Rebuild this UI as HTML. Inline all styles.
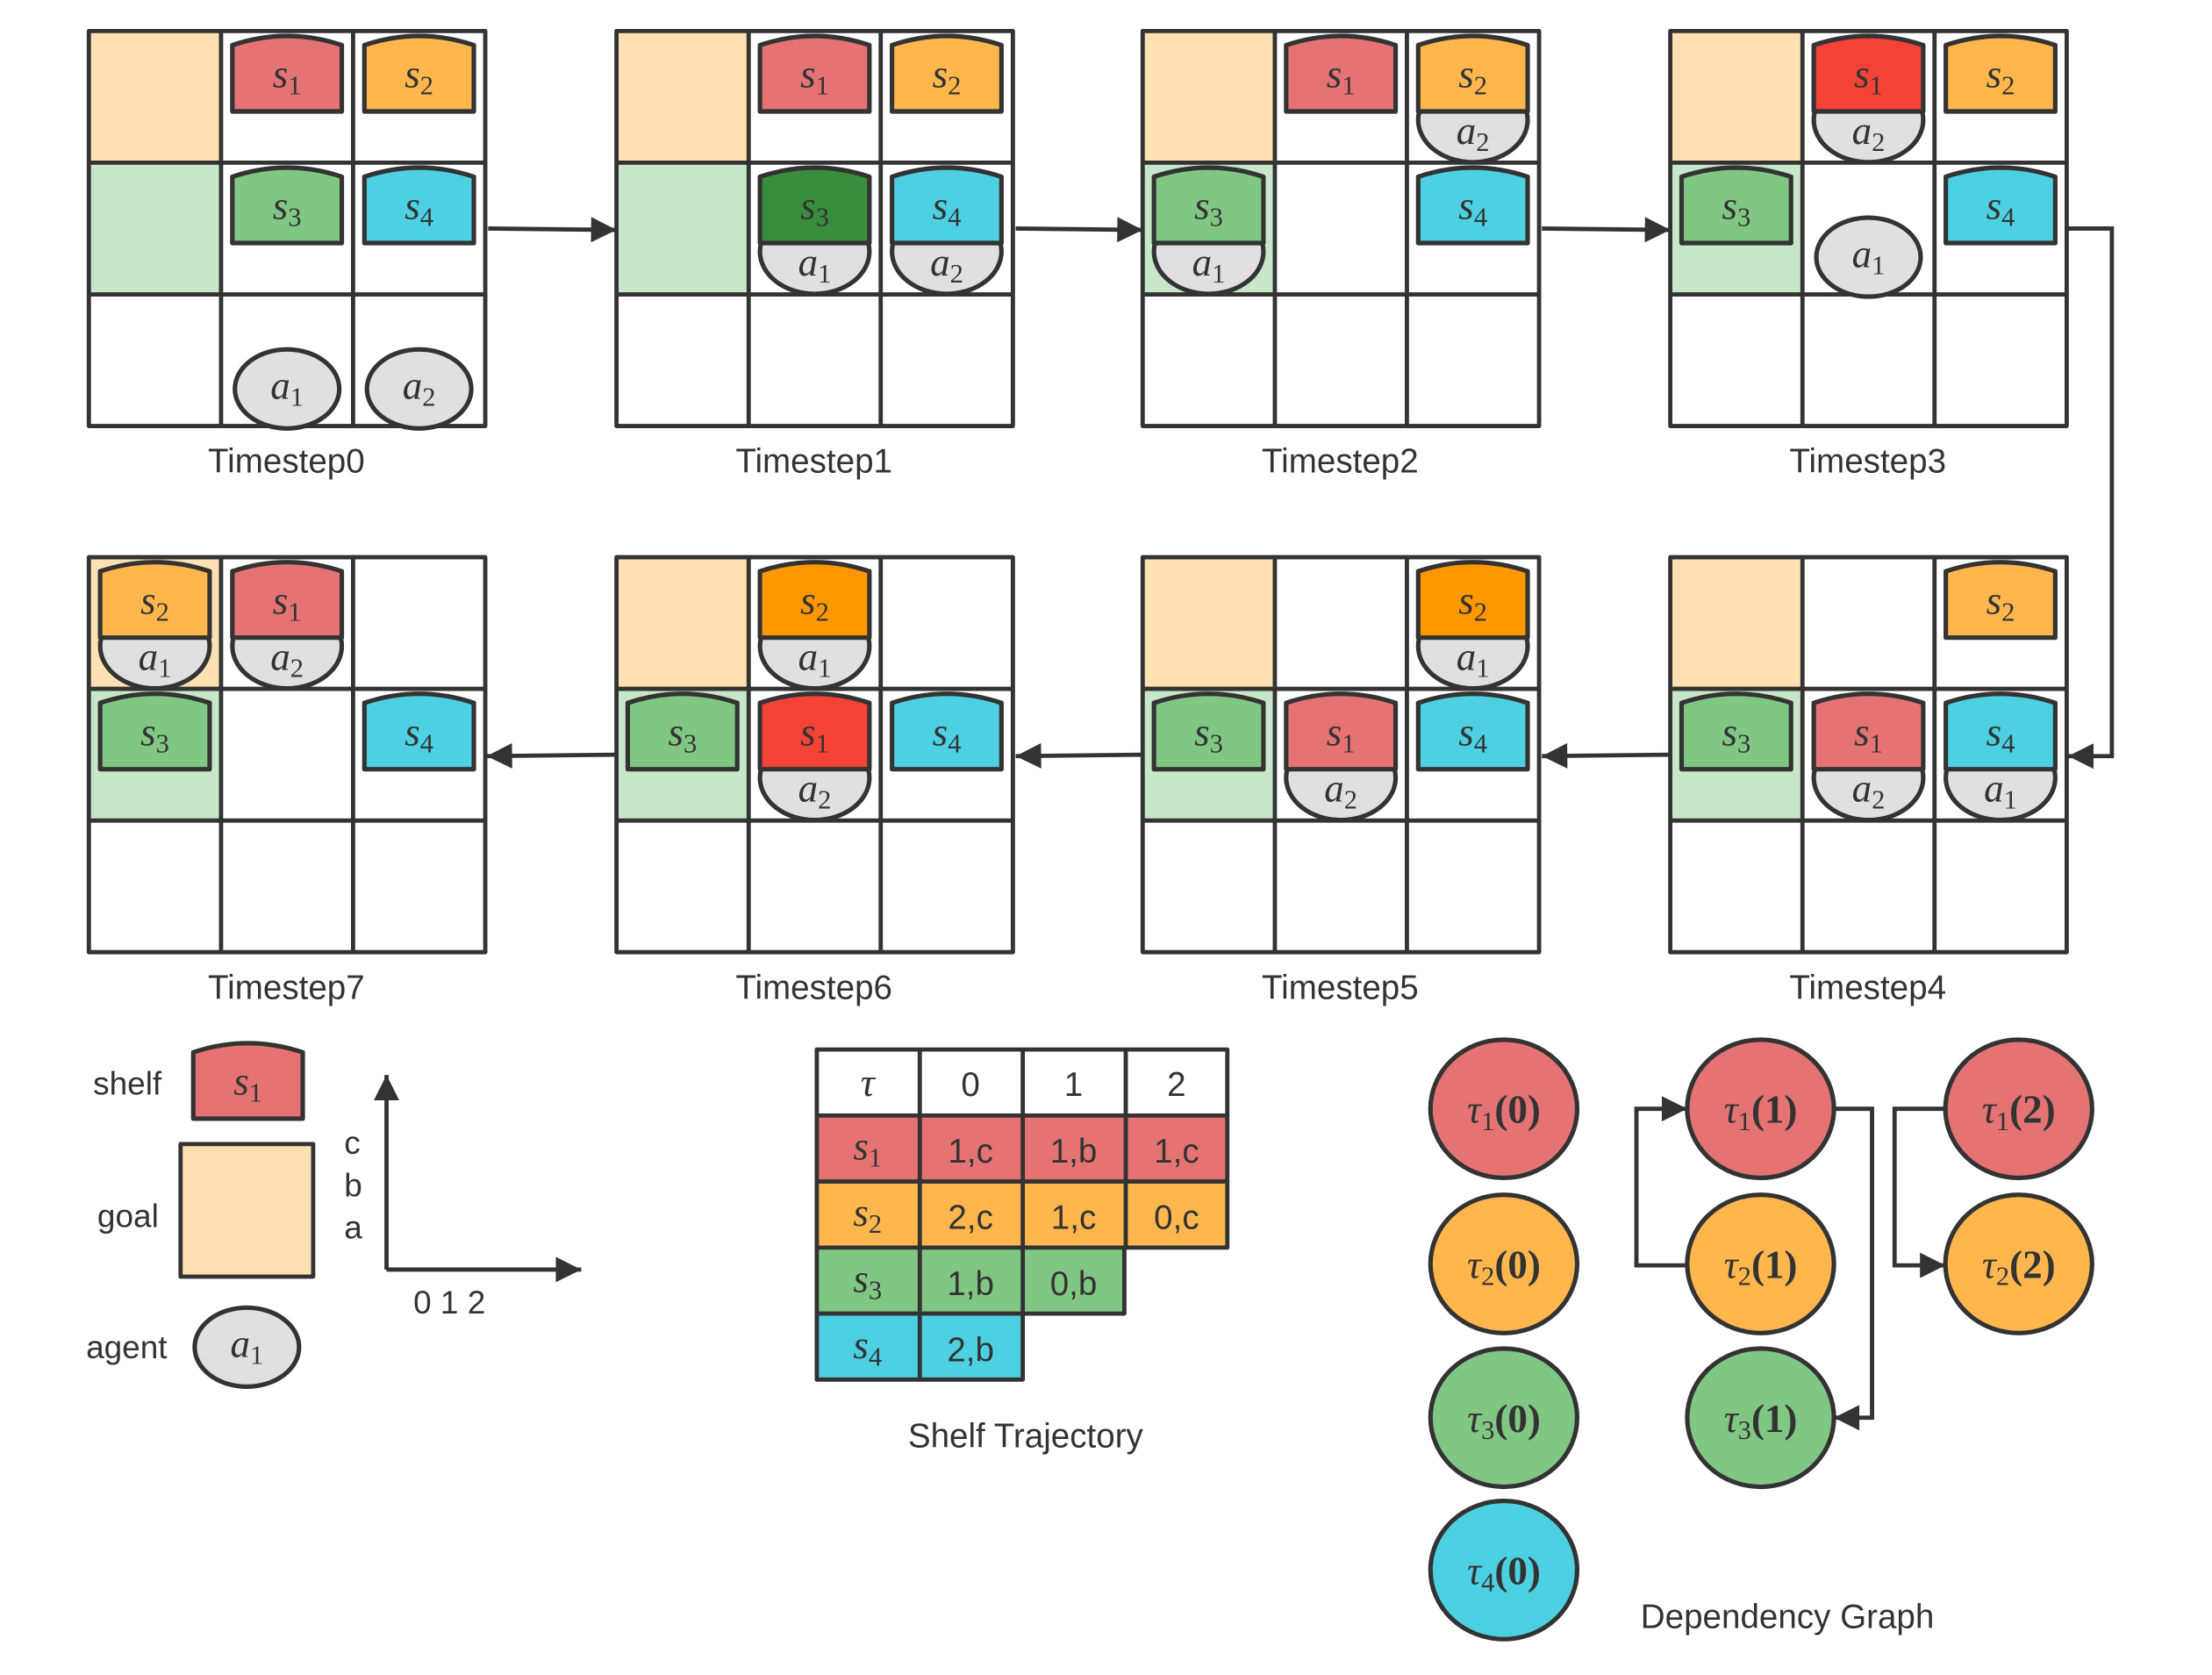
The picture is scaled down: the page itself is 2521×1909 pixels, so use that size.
<!DOCTYPE html>
<html><head><meta charset="utf-8">
<style>
html,body{margin:0;padding:0;background:#fff;}
svg{display:block;}
.lb{font-family:"Liberation Sans",sans-serif;font-size:23px;fill:#333;}
.m{font-family:"Liberation Serif",serif;font-style:italic;font-size:28px;fill:#333;text-anchor:middle;}
.sb{font-style:normal;font-size:19px;}
.tt{font-family:"Liberation Sans",sans-serif;font-size:24px;fill:#333;text-anchor:middle;}
</style></head><body>
<svg width="2521" height="1909" viewBox="0 0 1568 1187.4" preserveAspectRatio="none" xmlns="http://www.w3.org/2000/svg">
<defs>
<g id="bg">
<rect x="0" y="0" width="93.7" height="93.3" fill="#ffe0b2"/>
<rect x="0" y="93.3" width="93.7" height="93.3" fill="#c8e6c9"/>
<path d="M0,0H281V280H0Z M93.7,0V280 M187.3,0V280 M0,93.3H281 M0,186.7H281" fill="none" stroke="#333" stroke-width="3" stroke-linejoin="round"/>
</g>
<path id="sh" d="M8,57V10Q46.8,-3 85.6,10V57Z" stroke="#333" stroke-width="3.2" stroke-linejoin="round"/>
<ellipse id="ag" cx="46.8" cy="67" rx="37" ry="28" fill="#e0e0e0" stroke="#333" stroke-width="3.2"/>
<ellipse id="agc" cx="46.8" cy="63" rx="38.8" ry="30" fill="#e0e0e0" stroke="#333" stroke-width="3.2"/>
<marker id="ar" viewBox="0 0 10 10" refX="10" refY="5" markerWidth="9" markerHeight="6" markerUnits="strokeWidth" orient="auto"><path d="M0,0L10,5L0,10Z" fill="#333"/></marker>
</defs>

<!-- TS0 -->
<g transform="translate(63,22)"><use href="#bg"/>
<g transform="translate(93.7,0)"><use href="#sh" fill="#e57373"/><text class="m" x="46.8" y="40">s<tspan class="sb" dy="5">1</tspan></text></g>
<g transform="translate(187.3,0)"><use href="#sh" fill="#ffb74d"/><text class="m" x="46.8" y="40">s<tspan class="sb" dy="5">2</tspan></text></g>
<g transform="translate(93.7,93.3)"><use href="#sh" fill="#81c784"/><text class="m" x="46.8" y="40">s<tspan class="sb" dy="5">3</tspan></text></g>
<g transform="translate(187.3,93.3)"><use href="#sh" fill="#4dd0e1"/><text class="m" x="46.8" y="40">s<tspan class="sb" dy="5">4</tspan></text></g>
<g transform="translate(93.7,186.7)"><use href="#ag"/><text class="m" x="46.8" y="74">a<tspan class="sb" dy="5">1</tspan></text></g>
<g transform="translate(187.3,186.7)"><use href="#ag"/><text class="m" x="46.8" y="74">a<tspan class="sb" dy="5">2</tspan></text></g>
</g>
<text class="tt" x="203" y="335">Timestep0</text>

<!-- TS1 -->
<g transform="translate(437,22)"><use href="#bg"/>
<g transform="translate(93.7,0)"><use href="#sh" fill="#e57373"/><text class="m" x="46.8" y="40">s<tspan class="sb" dy="5">1</tspan></text></g>
<g transform="translate(187.3,0)"><use href="#sh" fill="#ffb74d"/><text class="m" x="46.8" y="40">s<tspan class="sb" dy="5">2</tspan></text></g>
<g transform="translate(93.7,93.3)"><use href="#agc"/><text class="m" x="46.8" y="80">a<tspan class="sb" dy="5">1</tspan></text><use href="#sh" fill="#388e3c"/><text class="m" x="46.8" y="40">s<tspan class="sb" dy="5">3</tspan></text></g>
<g transform="translate(187.3,93.3)"><use href="#agc"/><text class="m" x="46.8" y="80">a<tspan class="sb" dy="5">2</tspan></text><use href="#sh" fill="#4dd0e1"/><text class="m" x="46.8" y="40">s<tspan class="sb" dy="5">4</tspan></text></g>
</g>
<text class="tt" x="577" y="335">Timestep1</text>

<!-- TS2 -->
<g transform="translate(810,22)"><use href="#bg"/>
<g transform="translate(93.7,0)"><use href="#sh" fill="#e57373"/><text class="m" x="46.8" y="40">s<tspan class="sb" dy="5">1</tspan></text></g>
<g transform="translate(187.3,0)"><use href="#agc"/><text class="m" x="46.8" y="80">a<tspan class="sb" dy="5">2</tspan></text><use href="#sh" fill="#ffb74d"/><text class="m" x="46.8" y="40">s<tspan class="sb" dy="5">2</tspan></text></g>
<g transform="translate(0,93.3)"><use href="#agc"/><text class="m" x="46.8" y="80">a<tspan class="sb" dy="5">1</tspan></text><use href="#sh" fill="#81c784"/><text class="m" x="46.8" y="40">s<tspan class="sb" dy="5">3</tspan></text></g>
<g transform="translate(187.3,93.3)"><use href="#sh" fill="#4dd0e1"/><text class="m" x="46.8" y="40">s<tspan class="sb" dy="5">4</tspan></text></g>
</g>
<text class="tt" x="950" y="335">Timestep2</text>

<!-- TS3 -->
<g transform="translate(1184,22)"><use href="#bg"/>
<g transform="translate(93.7,0)"><use href="#agc"/><text class="m" x="46.8" y="80">a<tspan class="sb" dy="5">2</tspan></text><use href="#sh" fill="#f44336"/><text class="m" x="46.8" y="40">s<tspan class="sb" dy="5">1</tspan></text></g>
<g transform="translate(187.3,0)"><use href="#sh" fill="#ffb74d"/><text class="m" x="46.8" y="40">s<tspan class="sb" dy="5">2</tspan></text></g>
<g transform="translate(0,93.3)"><use href="#sh" fill="#81c784"/><text class="m" x="46.8" y="40">s<tspan class="sb" dy="5">3</tspan></text></g>
<g transform="translate(187.3,93.3)"><use href="#sh" fill="#4dd0e1"/><text class="m" x="46.8" y="40">s<tspan class="sb" dy="5">4</tspan></text></g>
<g transform="translate(93.7,93.3)"><use href="#ag"/><text class="m" x="46.8" y="74">a<tspan class="sb" dy="5">1</tspan></text></g>
</g>
<text class="tt" x="1324" y="335">Timestep3</text>

<!-- TS4 -->
<g transform="translate(1184,395)"><use href="#bg"/>
<g transform="translate(187.3,0)"><use href="#sh" fill="#ffb74d"/><text class="m" x="46.8" y="40">s<tspan class="sb" dy="5">2</tspan></text></g>
<g transform="translate(0,93.3)"><use href="#sh" fill="#81c784"/><text class="m" x="46.8" y="40">s<tspan class="sb" dy="5">3</tspan></text></g>
<g transform="translate(93.7,93.3)"><use href="#agc"/><text class="m" x="46.8" y="80">a<tspan class="sb" dy="5">2</tspan></text><use href="#sh" fill="#e57373"/><text class="m" x="46.8" y="40">s<tspan class="sb" dy="5">1</tspan></text></g>
<g transform="translate(187.3,93.3)"><use href="#agc"/><text class="m" x="46.8" y="80">a<tspan class="sb" dy="5">1</tspan></text><use href="#sh" fill="#4dd0e1"/><text class="m" x="46.8" y="40">s<tspan class="sb" dy="5">4</tspan></text></g>
</g>
<text class="tt" x="1324" y="708">Timestep4</text>

<!-- TS5 -->
<g transform="translate(810,395)"><use href="#bg"/>
<g transform="translate(187.3,0)"><use href="#agc"/><text class="m" x="46.8" y="80">a<tspan class="sb" dy="5">1</tspan></text><use href="#sh" fill="#ff9800"/><text class="m" x="46.8" y="40">s<tspan class="sb" dy="5">2</tspan></text></g>
<g transform="translate(0,93.3)"><use href="#sh" fill="#81c784"/><text class="m" x="46.8" y="40">s<tspan class="sb" dy="5">3</tspan></text></g>
<g transform="translate(93.7,93.3)"><use href="#agc"/><text class="m" x="46.8" y="80">a<tspan class="sb" dy="5">2</tspan></text><use href="#sh" fill="#e57373"/><text class="m" x="46.8" y="40">s<tspan class="sb" dy="5">1</tspan></text></g>
<g transform="translate(187.3,93.3)"><use href="#sh" fill="#4dd0e1"/><text class="m" x="46.8" y="40">s<tspan class="sb" dy="5">4</tspan></text></g>
</g>
<text class="tt" x="950" y="708">Timestep5</text>

<!-- TS6 -->
<g transform="translate(437,395)"><use href="#bg"/>
<g transform="translate(93.7,0)"><use href="#agc"/><text class="m" x="46.8" y="80">a<tspan class="sb" dy="5">1</tspan></text><use href="#sh" fill="#ff9800"/><text class="m" x="46.8" y="40">s<tspan class="sb" dy="5">2</tspan></text></g>
<g transform="translate(0,93.3)"><use href="#sh" fill="#81c784"/><text class="m" x="46.8" y="40">s<tspan class="sb" dy="5">3</tspan></text></g>
<g transform="translate(93.7,93.3)"><use href="#agc"/><text class="m" x="46.8" y="80">a<tspan class="sb" dy="5">2</tspan></text><use href="#sh" fill="#f44336"/><text class="m" x="46.8" y="40">s<tspan class="sb" dy="5">1</tspan></text></g>
<g transform="translate(187.3,93.3)"><use href="#sh" fill="#4dd0e1"/><text class="m" x="46.8" y="40">s<tspan class="sb" dy="5">4</tspan></text></g>
</g>
<text class="tt" x="577" y="708">Timestep6</text>

<!-- TS7 -->
<g transform="translate(63,395)"><use href="#bg"/>
<g transform="translate(0,0)"><use href="#agc"/><text class="m" x="46.8" y="80">a<tspan class="sb" dy="5">1</tspan></text><use href="#sh" fill="#ffb74d"/><text class="m" x="46.8" y="40">s<tspan class="sb" dy="5">2</tspan></text></g>
<g transform="translate(93.7,0)"><use href="#agc"/><text class="m" x="46.8" y="80">a<tspan class="sb" dy="5">2</tspan></text><use href="#sh" fill="#e57373"/><text class="m" x="46.8" y="40">s<tspan class="sb" dy="5">1</tspan></text></g>
<g transform="translate(0,93.3)"><use href="#sh" fill="#81c784"/><text class="m" x="46.8" y="40">s<tspan class="sb" dy="5">3</tspan></text></g>
<g transform="translate(187.3,93.3)"><use href="#sh" fill="#4dd0e1"/><text class="m" x="46.8" y="40">s<tspan class="sb" dy="5">4</tspan></text></g>
</g>
<text class="tt" x="203" y="708">Timestep7</text>

<!-- arrows -->
<g fill="none" stroke="#333" stroke-width="3" marker-end="url(#ar)">
<path d="M346,162L437,163"/>
<path d="M720,162L810,163"/>
<path d="M1093,162L1184,163"/>
<path d="M1465,162H1497V536H1466"/>
<path d="M1184,535L1093,536"/>
<path d="M810,535L720,536"/>
<path d="M437,535L345,536"/>
</g>

<!-- legend -->
<text class="lb" x="66" y="776">shelf</text>
<g transform="translate(129,736)"><use href="#sh" fill="#e57373"/><text class="m" x="46.8" y="40">s<tspan class="sb" dy="5">1</tspan></text></g>
<text class="lb" x="69" y="870">goal</text>
<rect x="128" y="811" width="94" height="94" fill="#ffe0b2" stroke="#333" stroke-width="3" stroke-linejoin="round"/>
<text class="lb" x="61" y="963">agent</text>
<ellipse cx="175" cy="955" rx="37" ry="28" fill="#e0e0e0" stroke="#333" stroke-width="3.2"/>
<text class="m" x="175" y="962">a<tspan class="sb" dy="5">1</tspan></text>
<g fill="none" stroke="#333" stroke-width="3">
<path d="M274,900V762" marker-end="url(#ar)"/>
<path d="M274,900H412" marker-end="url(#ar)"/>
</g>
<text class="lb" x="244" y="818">c</text>
<text class="lb" x="244" y="848">b</text>
<text class="lb" x="244" y="878">a</text>
<text class="lb" x="293" y="931">0 1 2</text>

<!-- table -->
<g stroke="#333" stroke-width="3" stroke-linejoin="round">
<rect x="579" y="744" width="291" height="46.8" fill="#fff"/>
<rect x="579" y="790.8" width="291" height="46.8" fill="#e57373"/>
<rect x="579" y="837.6" width="291" height="46.8" fill="#ffb74d"/>
<rect x="579" y="884.4" width="218" height="46.8" fill="#81c784"/>
<rect x="579" y="931.2" width="146" height="46.8" fill="#4dd0e1"/>
<path d="M652,744V978 M725,744V931 M798,744V884" fill="none"/>
</g>
<text class="m" x="615" y="777">τ</text>
<text class="tt" x="688" y="777">0</text><text class="tt" x="761" y="777">1</text><text class="tt" x="834" y="777">2</text>
<text class="m" x="615" y="822">s<tspan class="sb" dy="5">1</tspan></text>
<text class="tt" x="688" y="824">1,c</text><text class="tt" x="761" y="824">1,b</text><text class="tt" x="834" y="824">1,c</text>
<text class="m" x="615" y="869">s<tspan class="sb" dy="5">2</tspan></text>
<text class="tt" x="688" y="871">2,c</text><text class="tt" x="761" y="871">1,c</text><text class="tt" x="834" y="871">0,c</text>
<text class="m" x="615" y="916">s<tspan class="sb" dy="5">3</tspan></text>
<text class="tt" x="688" y="918">1,b</text><text class="tt" x="761" y="918">0,b</text>
<text class="m" x="615" y="963">s<tspan class="sb" dy="5">4</tspan></text>
<text class="tt" x="688" y="965">2,b</text>
<text class="tt" x="727" y="1026">Shelf Trajectory</text>

<!-- dependency graph -->
<g stroke="#333" stroke-width="3.2">
<ellipse cx="1066" cy="786" rx="52" ry="49" fill="#e57373"/>
<ellipse cx="1066" cy="896" rx="52" ry="49" fill="#ffb74d"/>
<ellipse cx="1066" cy="1005" rx="52" ry="49" fill="#81c784"/>
<ellipse cx="1066" cy="1113" rx="52" ry="49" fill="#4dd0e1"/>
<ellipse cx="1248" cy="786" rx="52" ry="49" fill="#e57373"/>
<ellipse cx="1248" cy="896" rx="52" ry="49" fill="#ffb74d"/>
<ellipse cx="1248" cy="1005" rx="52" ry="49" fill="#81c784"/>
<ellipse cx="1431" cy="786" rx="52" ry="49" fill="#e57373"/>
<ellipse cx="1431" cy="896" rx="52" ry="49" fill="#ffb74d"/>
</g>
<g fill="none" stroke="#333" stroke-width="3" marker-end="url(#ar)">
<path d="M1196,897H1160V786H1196"/>
<path d="M1300,786H1327V1005H1300"/>
<path d="M1379,786H1343V897H1379"/>
</g>
<text class="m" x="1066" y="796">τ<tspan class="sb" dy="5">1</tspan><tspan dy="-5" style="font-style:normal;font-weight:bold">(0)</tspan></text>
<text class="m" x="1066" y="906">τ<tspan class="sb" dy="5">2</tspan><tspan dy="-5" style="font-style:normal;font-weight:bold">(0)</tspan></text>
<text class="m" x="1066" y="1015">τ<tspan class="sb" dy="5">3</tspan><tspan dy="-5" style="font-style:normal;font-weight:bold">(0)</tspan></text>
<text class="m" x="1066" y="1123">τ<tspan class="sb" dy="5">4</tspan><tspan dy="-5" style="font-style:normal;font-weight:bold">(0)</tspan></text>
<text class="m" x="1248" y="796">τ<tspan class="sb" dy="5">1</tspan><tspan dy="-5" style="font-style:normal;font-weight:bold">(1)</tspan></text>
<text class="m" x="1248" y="906">τ<tspan class="sb" dy="5">2</tspan><tspan dy="-5" style="font-style:normal;font-weight:bold">(1)</tspan></text>
<text class="m" x="1248" y="1015">τ<tspan class="sb" dy="5">3</tspan><tspan dy="-5" style="font-style:normal;font-weight:bold">(1)</tspan></text>
<text class="m" x="1431" y="796">τ<tspan class="sb" dy="5">1</tspan><tspan dy="-5" style="font-style:normal;font-weight:bold">(2)</tspan></text>
<text class="m" x="1431" y="906">τ<tspan class="sb" dy="5">2</tspan><tspan dy="-5" style="font-style:normal;font-weight:bold">(2)</tspan></text>
<text class="tt" x="1267" y="1154">Dependency Graph</text>
</svg>
</body></html>
